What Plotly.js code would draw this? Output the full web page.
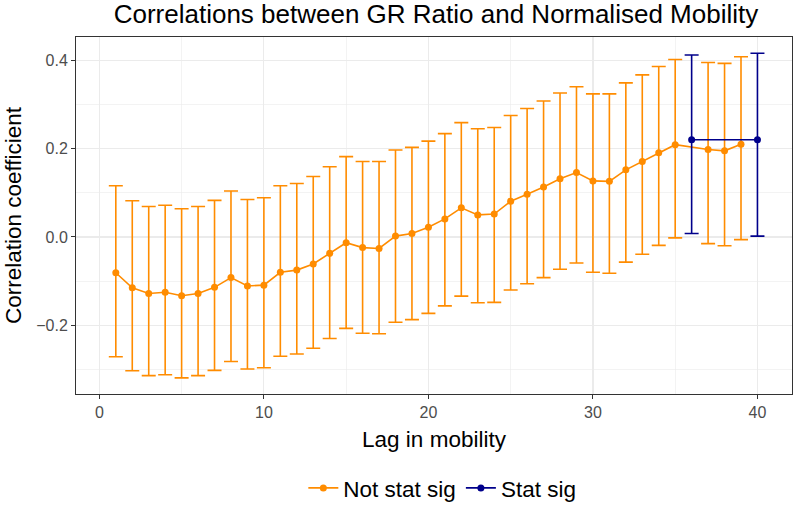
<!DOCTYPE html>
<html>
<head>
<meta charset="utf-8">
<script src="https://cdn.plot.ly/plotly-3.0.1.min.js"></script>
<style>
  html, body { margin: 0; padding: 0; background: #fff; }
  #chart { width: 797px; height: 514px; }
</style>
</head>
<body>
<div id="chart"></div>
<script>
// lags that did not reach significance
var nsLag   = [1,2,3,4,5,6,7,8,9,10,11,12,13,14,15,16,17,18,19,20,21,22,23,24,25,26,27,28,29,30,31,32,33,34,35,37,38,39];
var nsEst   = [-0.081,-0.115,-0.128,-0.125,-0.133,-0.128,-0.114,-0.092,-0.111,-0.109,-0.080,-0.075,-0.061,-0.037,-0.013,-0.024,-0.026,0.002,0.008,0.022,0.041,0.066,0.050,0.052,0.081,0.097,0.113,0.132,0.146,0.127,0.126,0.152,0.171,0.191,0.209,0.198,0.195,0.210];
var nsUpper = [0.116,0.082,0.069,0.072,0.064,0.069,0.083,0.104,0.085,0.089,0.116,0.121,0.137,0.159,0.182,0.171,0.171,0.197,0.203,0.217,0.234,0.259,0.245,0.248,0.275,0.291,0.308,0.326,0.340,0.324,0.324,0.349,0.367,0.386,0.402,0.395,0.393,0.408];
var nsLower = [-0.271,-0.303,-0.314,-0.312,-0.319,-0.314,-0.302,-0.282,-0.299,-0.296,-0.270,-0.265,-0.252,-0.230,-0.207,-0.218,-0.219,-0.193,-0.187,-0.173,-0.156,-0.134,-0.149,-0.148,-0.120,-0.106,-0.092,-0.073,-0.059,-0.080,-0.082,-0.057,-0.039,-0.019,-0.002,-0.015,-0.020,-0.006];

// significant lags
var sLag   = [36,40];
var sEst   = [0.220,0.220];
var sUpper = [0.412,0.416];
var sLower = [0.008,0.002];

var xTicks = [0,10,20,30,40];
var yTicks = [-0.2,0.0,0.2,0.4];
var yTickText = ['\u22120.2','0.0','0.2','0.4'];

function plus(est, up) { return up.map(function (u, i) { return u - est[i]; }); }
function minus(est, lo) { return lo.map(function (l, i) { return est[i] - l; }); }

var orange = '#FF8C00', navy = '#00008B';

var traces = [{
  type: 'scatter', mode: 'lines+markers', name: 'Not stat sig',
  x: nsLag, y: nsEst,
  line: {color: orange, width: 1.6},
  marker: {color: orange, size: 7},
  error_y: {type: 'data', symmetric: false, array: plus(nsEst, nsUpper), arrayminus: minus(nsEst, nsLower),
            color: orange, thickness: 1.6, width: 7}
}, {
  type: 'scatter', mode: 'lines+markers', name: 'Stat sig',
  x: sLag, y: sEst,
  line: {color: navy, width: 1.6},
  marker: {color: navy, size: 7},
  error_y: {type: 'data', symmetric: false, array: plus(sEst, sUpper), arrayminus: minus(sEst, sLower),
            color: navy, thickness: 1.6, width: 7}
}];

var grid = '#EBEBEB';
var layout = {
  width: 797, height: 514,
  margin: {l: 76, r: 5, t: 37, b: 120, pad: 0},
  paper_bgcolor: '#fff', plot_bgcolor: '#fff',
  font: {family: 'Liberation Sans, Arial, sans-serif', color: '#000'},
  title: {text: 'Correlations between GR Ratio and Normalised Mobility',
          font: {size: 26, color: '#000'}, x: 0.547, xanchor: 'center', xref: 'container',
          y: 0.973, yanchor: 'middle', yref: 'container'},
  xaxis: {
    range: [-1.42, 42.1], tickvals: xTicks, ticktext: xTicks.map(String),
    ticks: 'outside', ticklen: 4, tickcolor: '#333', tickwidth: 1,
    tickfont: {size: 16, color: '#4D4D4D'},
    showgrid: true, gridcolor: grid, gridwidth: 1.2,
    minor: {tickvals: [5,15,25,35], showgrid: true, gridcolor: grid, gridwidth: 0.6, ticks: ''},
    showline: true, mirror: true, linecolor: '#333', linewidth: 1, zeroline: false,
    title: {text: 'Lag in mobility', font: {size: 22.5, color: '#000'}, standoff: 11}
  },
  yaxis: {
    range: [-0.3555, 0.4528], tickvals: yTicks, ticktext: yTickText,
    ticks: 'outside', ticklen: 4, tickcolor: '#333', tickwidth: 1,
    tickfont: {size: 16, color: '#4D4D4D'},
    showgrid: true, gridcolor: grid, gridwidth: 1.2,
    minor: {tickvals: [-0.3,-0.1,0.1,0.3], showgrid: true, gridcolor: grid, gridwidth: 0.6, ticks: ''},
    showline: true, mirror: true, linecolor: '#333', linewidth: 1, zeroline: false,
    title: {text: 'Correlation coefficient', font: {size: 22.5, color: '#000'}, standoff: 8}
  },
  showlegend: true,
  legend: {orientation: 'h', x: 0.555, xref: 'container', xanchor: 'center',
           y: 0.05, yref: 'container', yanchor: 'middle',
           font: {size: 22.5, color: '#000'}, itemwidth: 30, tracegroupgap: 0}
};

Plotly.newPlot('chart', traces, layout, {displayModeBar: false, staticPlot: true});
</script>
</body>
</html>
